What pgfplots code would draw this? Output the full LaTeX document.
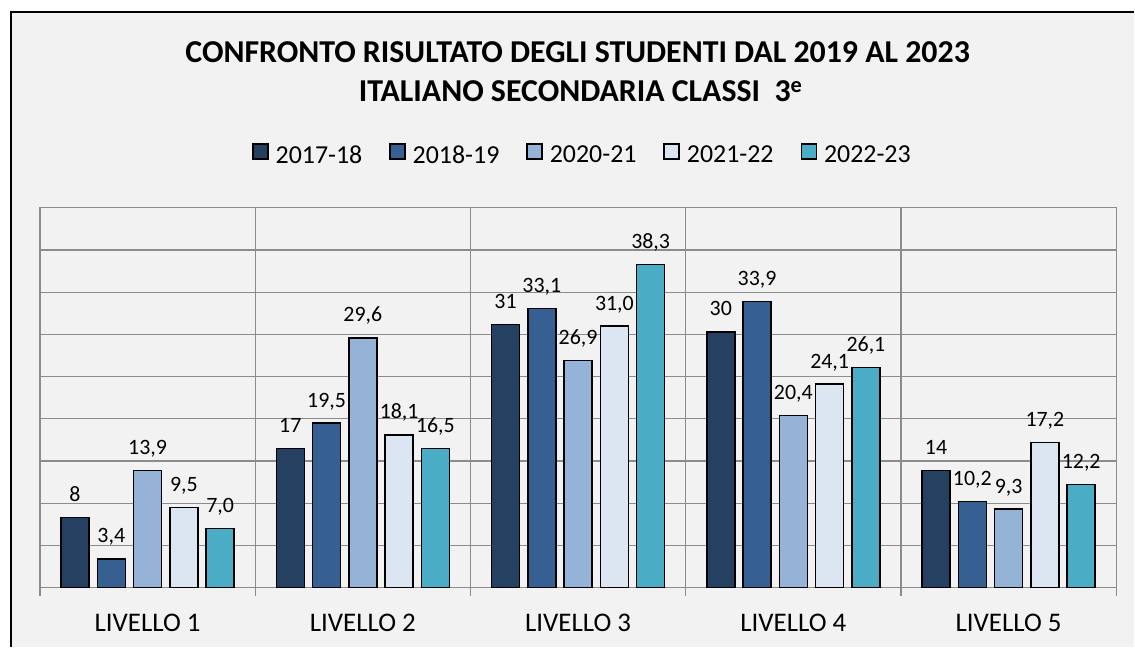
\documentclass[border=0pt]{standalone}
\usepackage{fontspec}
\setmainfont{Carlito}
\usepackage{pgfplots}
\pgfplotsset{compat=1.18}
\definecolor{cA}{HTML}{254061}
\definecolor{cB}{HTML}{376092}
\definecolor{cC}{HTML}{95B3D7}
\definecolor{cD}{HTML}{DCE6F2}
\definecolor{cE}{HTML}{4BACC6}
\definecolor{bgc}{HTML}{F2F2F2}
\definecolor{gridc}{HTML}{8C8C8C}
\begin{document}
\begin{tikzpicture}[x=1bp,y=1bp]
\fill[white] (0,0) rectangle (1135,647);
\fill[bgc] (11,0) rectangle (1135,635);
\draw[black, line width=1.5bp] (11,0) -- (11,635) -- (1135,635);
\node[anchor=base, font=\fontsize{32}{38}\selectfont\bfseries, inner sep=0] at (578,584) {CONFRONTO RISULTATO DEGLI STUDENTI DAL 2019 AL 2023};
\node[anchor=base, font=\fontsize{32}{38}\selectfont\bfseries, inner sep=0] at (581,545) {ITALIANO SECONDARIA CLASSI\ \ 3\textsuperscript{e}};
\begin{axis}[
  at={(40bp,59bp)}, anchor=south west,
  scale only axis, width=1077bp, height=380bp,
  ymin=0, ymax=45, ytick={0,5,...,45}, yticklabels={},
  ymajorgrids, major grid style={gridc, line width=1.2bp},
  axis line style={gridc, line width=1.2bp},
  major tick length=0, xtick pos=bottom,
  xmin=-0.5, xmax=4.5, xtick={0,1,2,3,4},
  xticklabels={LIVELLO 1,LIVELLO 2,LIVELLO 3,LIVELLO 4,LIVELLO 5},
  extra x ticks={-0.5,0.5,1.5,2.5,3.5,4.5}, extra x tick labels={},
  extra x tick style={grid=major, major tick length=8bp, tick align=outside, xtick pos=bottom, tick style={gridc, line width=1.2bp}},
  xticklabel style={font=\fontsize{27}{32}\selectfont, anchor=base, yshift=-44bp},
  ybar=8.3bp, bar width=28bp,
  nodes near coords, point meta=explicit symbolic,
  nodes near coords style={font=\fontsize{22}{26}\selectfont, anchor=base, yshift=16bp, inner sep=0, text=black},
  legend columns=5,
  legend style={at={(0.504,1.139)}, anchor=center, draw=none, fill=none,
    font=\fontsize{26}{31}\selectfont,
    /tikz/every odd column/.append style={column sep=5bp},
    /tikz/every even column/.append style={column sep=25bp}},
  legend image code/.code={\draw[#1, draw=black, line width=1.5bp] (0bp,-4bp) rectangle (15bp,11bp);},
]
\addplot[fill=cA, draw=black, line width=1.5bp] coordinates {(0,8.3) [8] (1,16.5) [17] (2,31.2) [31] (3,30.3) [30] (4,13.9) [14]};
\addplot[fill=cB, draw=black, line width=1.5bp] coordinates {(0,3.4) [3,4] (1,19.5) [19,5] (2,33.1) [33,1] (3,33.9) [33,9] (4,10.2) [10,2]};
\addplot[fill=cC, draw=black, line width=1.5bp] coordinates {(0,13.9) [13,9] (1,29.6) [29,6] (2,26.9) [26,9] (3,20.4) [20,4] (4,9.3) [9,3]};
\addplot[fill=cD, draw=black, line width=1.5bp] coordinates {(0,9.5) [9,5] (1,18.1) [18,1] (2,31.0) [31,0] (3,24.1) [24,1] (4,17.2) [17,2]};
\addplot[fill=cE, draw=black, line width=1.5bp] coordinates {(0,7.0) [7,0] (1,16.5) [16,5] (2,38.3) [38,3] (3,26.1) [26,1] (4,12.2) [12,2]};
\legend{2017-18,2018-19,2020-21,2021-22,2022-23}
\end{axis}
\end{tikzpicture}
\end{document}
